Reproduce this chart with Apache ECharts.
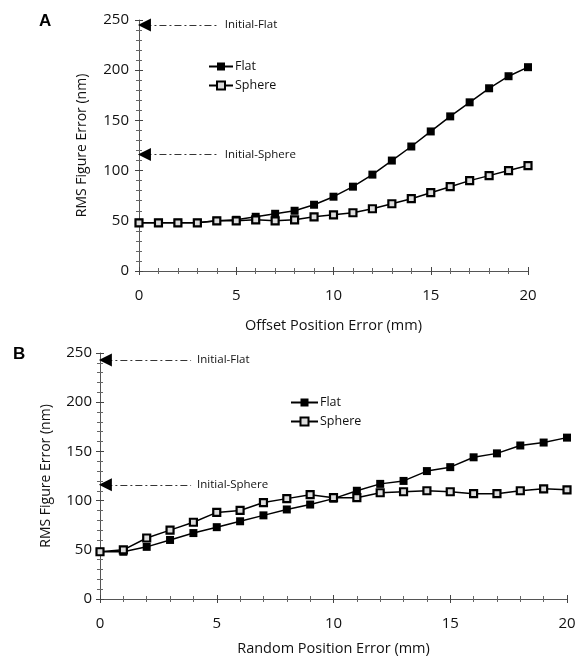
<!DOCTYPE html>
<html>
<head>
<meta charset="utf-8">
<script src="https://cdn.jsdelivr.net/npm/echarts@6/dist/echarts.min.js"></script>
<style>
  html, body { margin: 0; padding: 0; background: #fff; }
  #chart { width: 588px; height: 659px; }
</style>
</head>
<body>
<div id="chart"></div>
<script>
// panel A: offset position error
const offsetErr = [0, 1, 2, 3, 4, 5, 6, 7, 8, 9, 10, 11, 12, 13, 14, 15, 16, 17, 18, 19, 20];
const flatA = [48, 48, 48, 48, 50, 51, 54, 57, 60, 66, 74, 84, 96, 110, 124, 139, 154, 168, 182, 194, 203];
const sphereA = [48, 48, 48, 48, 50, 50, 51, 50, 51, 54, 56, 58, 62, 67, 72, 78, 84, 90, 95, 100, 105];

// panel B: random position error
const randomErr = [0, 1, 2, 3, 4, 5, 6, 7, 8, 9, 10, 11, 12, 13, 14, 15, 16, 17, 18, 19, 20];
const flatB = [48, 48, 53, 60, 67, 73, 79, 85, 91, 96, 102, 110, 117, 120, 130, 134, 144, 148, 156, 159, 164];
const sphereB = [48, 50, 62, 70, 78, 88, 90, 98, 102, 106, 103, 103, 108, 109, 110, 109, 107, 107, 110, 112, 111];

// initial figure errors (arrows on the y axis)
const initialNames = ['Initial-Flat', 'Initial-Sphere'];
const initialA = [245, 116];
const initialB = [243, 116];

const xTicks = [0, 20, 5];     // min, max, interval
const yTicks = [0, 250, 50];

const FONT = 'Open Sans';

function zip(xs, ys) {
  return xs.map((x, i) => [x, ys[i]]);
}

function mainX(grid, name, gap) {
  return {
    type: 'value', gridIndex: grid, position: 'bottom',
    min: xTicks[0], max: xTicks[1], interval: xTicks[2],
    name: name, nameLocation: 'middle', nameGap: gap,
    nameTextStyle: { fontFamily: FONT, fontSize: 14.5, color: '#111' },
    axisLine: { show: true, onZero: false, lineStyle: { color: '#555', width: 1 } },
    axisTick: { show: true, length: 4, lineStyle: { color: '#444' } },
    minorTick: { show: true, splitNumber: 5, length: 3, lineStyle: { color: '#666' } },
    axisLabel: { margin: 17, fontFamily: FONT, fontSize: 15, color: '#111' },
    splitLine: { show: false }
  };
}

function overlayX(grid) {
  return {
    type: 'value', gridIndex: grid, position: 'bottom',
    min: xTicks[0], max: xTicks[1], interval: xTicks[2],
    axisLine: { show: false, onZero: false },
    axisTick: { show: true, inside: true, length: 4, lineStyle: { color: '#444' } },
    minorTick: { show: true, splitNumber: 5, length: 3, lineStyle: { color: '#666' } },
    axisLabel: { show: false },
    splitLine: { show: false }
  };
}

function mainY(grid, gap, margin) {
  return {
    type: 'value', gridIndex: grid, position: 'left',
    min: yTicks[0], max: yTicks[1], interval: yTicks[2],
    name: 'RMS Figure Error (nm)', nameLocation: 'middle', nameGap: gap,
    nameTextStyle: { fontFamily: FONT, fontSize: 14, color: '#111' },
    axisLine: { show: true, onZero: false, lineStyle: { color: '#555', width: 1 } },
    axisTick: { show: true, length: 4, lineStyle: { color: '#444' } },
    minorTick: { show: true, splitNumber: 5, length: 3, lineStyle: { color: '#666' } },
    axisLabel: { margin: margin, fontFamily: FONT, fontSize: 15, color: '#111' },
    splitLine: { show: false }
  };
}

function overlayY(grid) {
  return {
    type: 'value', gridIndex: grid, position: 'left',
    min: yTicks[0], max: yTicks[1], interval: yTicks[2],
    axisLine: { show: false, onZero: false },
    axisTick: { show: true, inside: true, length: 4, lineStyle: { color: '#444' } },
    minorTick: { show: true, splitNumber: 5, length: 3, lineStyle: { color: '#666' } },
    axisLabel: { show: false },
    splitLine: { show: false }
  };
}

// arrow tip sits just at the y axis
function initialMarks(values, startX, endX) {
  return {
    silent: true,
    symbol: ['triangle', 'none'],
    symbolSize: 13,
    itemStyle: { color: '#000' },
    lineStyle: { color: '#000', width: 0.8, type: [7, 3, 2, 3] },
    label: {
      show: true, position: 'end', distance: 6, formatter: '{b}',
      fontFamily: FONT, fontSize: 11.5, color: '#111'
    },
    data: values.map((v, i) => [
      { name: initialNames[i], coord: [startX, v] },
      { coord: [endX, v] }
    ])
  };
}

const flatStyle = {
  type: 'line', name: 'Flat', symbol: 'rect', symbolSize: 8,
  itemStyle: { color: '#000' },
  lineStyle: { color: '#000', width: 1.5 }
};
const sphereStyle = {
  type: 'line', name: 'Sphere', symbol: 'rect', symbolSize: 7,
  itemStyle: { color: '#ddd', borderColor: '#000', borderWidth: 2.2 },
  lineStyle: { color: '#000', width: 1.5 }
};

const chart = echarts.init(document.getElementById('chart'));
chart.setOption({
  backgroundColor: '#fff',
  animation: false,
  title: [
    { text: 'A', left: 34, top: 8, textStyle: { fontFamily: 'Liberation Sans', fontWeight: 'bold', fontSize: 17, color: '#000' } },
    { text: 'B', left: 8, top: 341, textStyle: { fontFamily: 'Liberation Sans', fontWeight: 'bold', fontSize: 17, color: '#000' } }
  ],
  legend: [
    {
      left: 203, top: 55, orient: 'vertical', itemWidth: 24, itemHeight: 10, itemGap: 6,
      data: ['Flat', 'Sphere'],
      textStyle: { fontFamily: FONT, fontSize: 12.5, color: '#111', padding: [0, 0, 0, -3] }
    },
    {
      left: 285, top: 391, orient: 'vertical', itemWidth: 27, itemHeight: 10, itemGap: 6,
      data: ['Flat', 'Sphere'],
      textStyle: { fontFamily: FONT, fontSize: 12.5, color: '#111', padding: [0, 0, 0, -3] }
    }
  ],
  grid: [
    { left: 139, top: 20, width: 389, height: 251 },
    { left: 100, top: 353, width: 467, height: 246 }
  ],
  xAxis: [
    mainX(0, 'Offset Position Error (mm)', 47),
    mainX(1, 'Random Position Error (mm)', 42),
    overlayX(0),
    overlayX(1)
  ],
  yAxis: [
    mainY(0, 50, 10),
    mainY(1, 47, 8),
    overlayY(0),
    overlayY(1)
  ],
  series: [
    Object.assign({}, flatStyle, {
      xAxisIndex: 0, yAxisIndex: 0, data: zip(offsetErr, flatA),
      markLine: initialMarks(initialA, 0.28, 4.1)
    }),
    Object.assign({}, sphereStyle, { xAxisIndex: 0, yAxisIndex: 0, data: zip(offsetErr, sphereA) }),
    Object.assign({}, flatStyle, {
      xAxisIndex: 1, yAxisIndex: 1, data: zip(randomErr, flatB),
      markLine: initialMarks(initialB, 0.23, 3.9)
    }),
    Object.assign({}, sphereStyle, { xAxisIndex: 1, yAxisIndex: 1, data: zip(randomErr, sphereB) })
  ]
});
</script>
</body>
</html>
